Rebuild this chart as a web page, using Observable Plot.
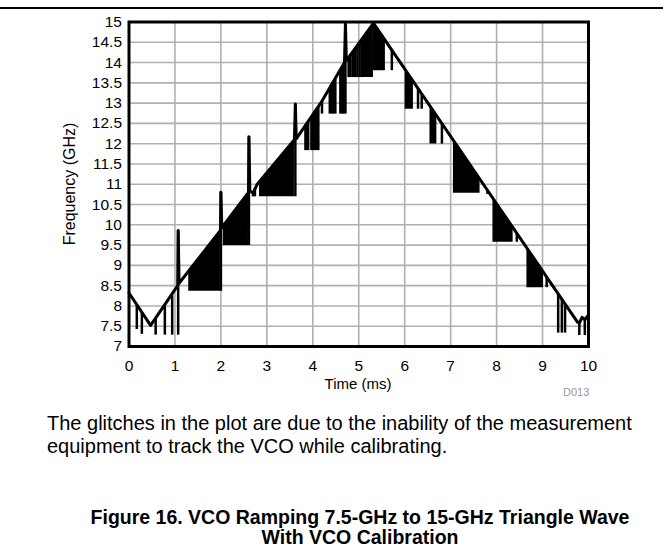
<!DOCTYPE html>
<html>
<head>
<meta charset="utf-8">
<script src="https://cdn.jsdelivr.net/npm/d3@7"></script>
<script src="https://cdn.jsdelivr.net/npm/@observablehq/plot@0.6"></script>
<style>
  html, body { margin: 0; padding: 0; background: #fff; }
  #wrap { position: relative; width: 663px; height: 558px; overflow: hidden; font-family: "Liberation Sans", Arial, sans-serif; color: #000; }
  #rule { position: absolute; left: 0; top: 7px; width: 663px; height: 2px; background: #000; }
  #chart { position: absolute; left: 0; top: 0; }
  .lbl { position: absolute; white-space: nowrap; font-size: 15px; }
  #xlab { left: 358px; top: 375px; transform: translateX(-50%); font-size: 15px; }
  #ylab { left: 70px; top: 184px; transform: translate(-50%, -50%) rotate(-90deg); font-size: 16px; }
  #code { left: 563px; top: 386px; font-size: 11px; color: #999; }
  #caption { position: absolute; left: 47px; top: 412px; font-size: 20px; line-height: 23px; white-space: nowrap; }
  #title { position: absolute; left: 360px; top: 507px; transform: translateX(-50%); text-align: center; font-weight: bold; font-size: 19.5px; line-height: 20px; white-space: nowrap; }
</style>
</head>
<body>
<div id="wrap">
  <div id="rule"></div>
  <div id="chart"></div>
  <div class="lbl" id="xlab">Time (ms)</div>
  <div class="lbl" id="ylab">Frequency (GHz)</div>
  <div class="lbl" id="code">D013</div>
  <div id="caption">The glitches in the plot are due to the inability of the measurement<br>equipment to track the VCO while calibrating.</div>
  <div id="title">Figure 16. VCO Ramping 7.5-GHz to 15-GHz Triangle Wave<br>With VCO Calibration</div>
</div>
<script>
// Tick labels
const xTicks = [0, 1, 2, 3, 4, 5, 6, 7, 8, 9, 10];
const yTicks = [7, 7.5, 8, 8.5, 9, 9.5, 10, 10.5, 11, 11.5, 12, 12.5, 13, 13.5, 14, 14.5, 15];

// Main VCO trace: time (ms) and frequency (GHz)
const traceT = [0, 0.47, 1.06, 1.07, 1.09, 1.99, 2.0, 2.02, 2.6, 2.61, 2.63, 2.7, 2.79, 3.6, 3.62, 3.64, 4.2, 4.69, 4.71, 4.73, 5.32, 9.76, 9.8, 9.86, 9.92, 10];
const traceF = [8.32, 7.52, 8.5, 9.86, 8.56, 9.86, 10.8, 9.93, 10.8, 12.17, 10.84, 10.78, 11.0, 12.1, 12.98, 12.12, 13.05, 14.0, 14.97, 14.05, 14.97, 7.6, 7.58, 7.72, 7.66, 7.78];

// Individual calibration glitches: time, top (GHz), bottom (GHz)
const glitchT =     [0.17, 0.28, 0.58, 0.78, 0.94, 1.07, 2.0,  2.61,  2.7,   2.74,  3.62,  3.84,  3.87,  3.9,   3.97,  4.0,   4.03,  4.06,  4.09,  4.12,  4.2,   4.37,  4.41,  4.45,  4.49,  4.6,   4.64,  4.67,  4.71,  4.78,  4.82,  4.87,  4.92,  4.97,  5.02,  5.07,  5.72,  6.29,  6.37,  6.81,  7.8,   8.44, 9.09, 9.34, 9.42, 9.49, 9.8,  9.92];
const glitchTop =   [8.03, 7.85, 7.7,  8.0,  8.25, 9.86, 10.8, 12.17, 10.8,  10.9,  12.98, 12.45, 12.5,  12.55, 12.65, 12.7,  12.75, 12.8,  12.85, 12.9,  13.05, 13.35, 13.42, 13.5,  13.58, 13.79, 13.87, 13.94, 14.97, 14.12, 14.2,  14.27, 14.35, 14.43, 14.5,  14.57, 14.3,  13.36, 13.22, 12.49, 10.85, 9.78, 8.7,  8.29, 8.15, 8.04, 7.58, 7.66];
const glitchFloor = [7.42, 7.3,  7.28, 7.28, 7.28, 7.28, 8.36, 9.49,  10.69, 10.69, 10.69, 11.83, 11.83, 11.83, 11.83, 11.83, 11.83, 11.83, 11.83, 11.83, 12.73, 12.73, 12.73, 12.73, 12.73, 12.73, 12.73, 12.73, 12.73, 13.63, 13.63, 13.63, 13.63, 13.63, 13.63, 13.63, 13.8,  12.85, 12.85, 11.99, 10.75, 9.57, 8.45, 7.33, 7.33, 7.33, 7.27, 7.27];

// Dense glitch bands: start/end time, top at start/end, bottom
const bandT0 =    [1.3,  2.05, 2.84,  5.1,   5.32,  6.01,  6.55,  7.06,  7.92,  8.66];
const bandT1 =    [1.99, 2.6,  3.6,   5.32,  5.58,  6.19,  6.7,   7.64,  8.36,  9.02];
const bandTop0 =  [8.86, 9.96, 11.07, 14.6,  14.97, 13.82, 12.92, 12.08, 10.65, 9.42];
const bandTop1 =  [9.86, 10.8, 12.1,  14.97, 14.55, 13.52, 12.67, 11.11, 9.91,  8.82];
const bandFloor = [8.36, 9.49, 10.69, 13.63, 13.8,  12.85, 11.99, 10.78, 9.57,  8.45];

const trace = traceT.map((t, i) => ({t, f: traceF[i]}));
const glitches = glitchT.map((t, i) => ({t, top: glitchTop[i], floor: glitchFloor[i]}));
const bands = bandT0.flatMap((t0, i) => [
  {id: i, t: t0, top: bandTop0[i], floor: bandFloor[i]},
  {id: i, t: bandT1[i], top: bandTop1[i], floor: bandFloor[i]}
]);

const chart = Plot.plot({
  width: 663,
  height: 400,
  marginLeft: 128.5,
  marginRight: 75,
  marginTop: 21.5,
  marginBottom: 54,
  style: {fontFamily: "'Liberation Sans', Arial, sans-serif", fontSize: "15px", color: "#000", background: "transparent", overflow: "visible"},
  x: {domain: [0, 10]},
  y: {domain: [7, 15]},
  marks: [
    Plot.gridX(xTicks, {stroke: "#b0b0b0", strokeOpacity: 1, strokeWidth: 1.6}),
    Plot.gridY(yTicks, {stroke: "#b0b0b0", strokeOpacity: 1, strokeWidth: 1.6}),
    Plot.areaY(bands, {x: "t", y1: "floor", y2: "top", z: "id", fill: "#000"}),
    Plot.ruleX(glitches, {x: "t", y1: "floor", y2: "top", stroke: "#000", strokeWidth: 2.5}),
    Plot.line(trace, {x: "t", y: "f", stroke: "#000", strokeWidth: 3}),
    Plot.frame({stroke: "#000", strokeWidth: 3}),
    Plot.axisX(xTicks, {tickSize: 0, tickPadding: 13, label: null, fontSize: 15.5}),
    Plot.axisY(yTicks, {tickSize: 0, tickPadding: 7, label: null, fontSize: 15.5, tickFormat: d => String(d)})
  ]
});
document.getElementById("chart").appendChild(chart);
</script>
</body>
</html>
